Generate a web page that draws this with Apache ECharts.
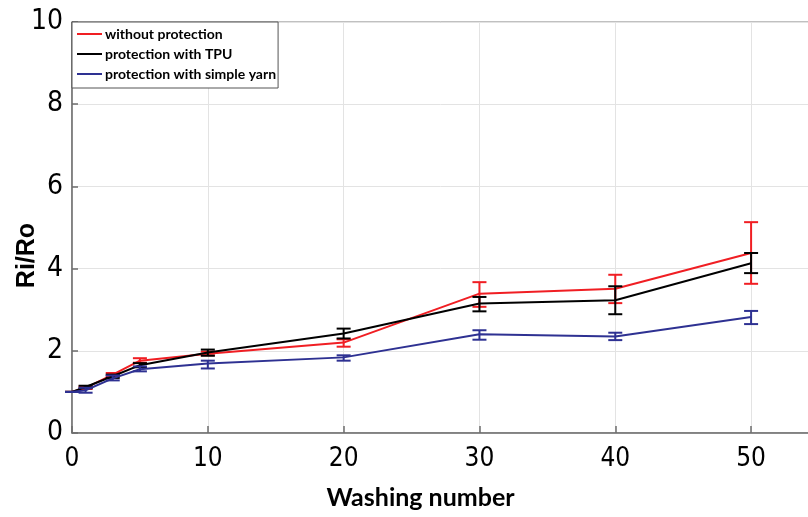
<!DOCTYPE html>
<html>
<head>
<meta charset="utf-8">
<script src="https://cdn.jsdelivr.net/npm/echarts@6/dist/echarts.min.js"></script>
<style>
html,body{margin:0;padding:0;background:#fff;}
#chart{width:808px;height:517px;}
</style>
</head>
<body>
<div id="chart"></div>
<script>
// ---- data ----
const washing = [0, 1, 3, 5, 10, 20, 30, 40, 50];
const seriesNames = ['without protection', 'protection with TPU', 'protection with simple yarn'];
const redMean   = [1.00, 1.10, 1.42, 1.76, 1.93, 2.20, 3.39, 3.51, 4.38];
const redLow    = [1.00, 1.07, 1.38, 1.71, 1.89, 2.10, 3.07, 3.16, 3.63];
const redHigh   = [1.00, 1.13, 1.46, 1.82, 1.98, 2.28, 3.67, 3.85, 5.13];
const blackMean = [1.00, 1.12, 1.38, 1.65, 1.96, 2.42, 3.15, 3.23, 4.13];
const blackLow  = [1.00, 1.09, 1.34, 1.60, 1.88, 2.30, 2.96, 2.89, 3.89];
const blackHigh = [1.00, 1.15, 1.42, 1.70, 2.03, 2.54, 3.31, 3.57, 4.38];
const blueMean  = [1.00, 1.04, 1.33, 1.55, 1.69, 1.84, 2.40, 2.35, 2.82];
const blueLow   = [1.00, 0.98, 1.28, 1.50, 1.57, 1.76, 2.27, 2.26, 2.65];
const blueHigh  = [1.00, 1.10, 1.40, 1.62, 1.76, 1.89, 2.50, 2.44, 2.97];
const xTicks = [0, 10, 20, 30, 40, 50];
const yTicks = [0, 2, 4, 6, 8, 10];

const colors = ['#f01e23', '#000000', '#2e3192'];

function pairs(xs, ys) { return xs.map((x, i) => [x, ys[i]]); }
function errData(xs, lo, hi) { return xs.map((x, i) => [x, lo[i], hi[i]]); }

function errRender(color) {
  return function (params, api) {
    const x = api.value(0);
    const p1 = api.coord([x, api.value(1)]);
    const p2 = api.coord([x, api.value(2)]);
    const hw = 7;
    const st = { stroke: color, lineWidth: 2 };
    return {
      type: 'group',
      children: [
        { type: 'line', shape: { x1: p1[0], y1: p1[1], x2: p2[0], y2: p2[1] }, style: st },
        { type: 'line', shape: { x1: p1[0] - hw, y1: p1[1], x2: p1[0] + hw, y2: p1[1] }, style: st },
        { type: 'line', shape: { x1: p2[0] - hw, y1: p2[1], x2: p2[0] + hw, y2: p2[1] }, style: st }
      ]
    };
  };
}

const means = [redMean, blackMean, blueMean];
const lows = [redLow, blackLow, blueLow];
const highs = [redHigh, blackHigh, blueHigh];

const series = [];
for (let k = 0; k < 3; k++) {
  series.push({
    name: seriesNames[k],
    type: 'line',
    data: pairs(washing, means[k]),
    showSymbol: false,
    symbol: 'none',
    lineStyle: { color: colors[k], width: 2 },
    itemStyle: { color: colors[k] },
    z: 2 + k,
    animation: false
  });
  series.push({
    type: 'custom',
    data: errData(washing, lows[k], highs[k]),
    renderItem: errRender(colors[k]),
    encode: { x: 0, y: [1, 2] },
    z: 2 + k,
    silent: true,
    animation: false
  });
}

const tickFont = "'Liberation Sans Narrow', 'Arial Narrow', 'DejaVu Sans Condensed', 'Liberation Sans', sans-serif";

const chart = echarts.init(document.getElementById('chart'), null, { renderer: 'canvas' });
chart.setOption({
  animation: false,
  backgroundColor: '#ffffff',
  grid: {
    left: 72, top: 22, width: 747, height: 411,
    outerBoundsMode: 'none', containLabel: false,
    show: true, borderColor: '#808080', borderWidth: 1, backgroundColor: 'transparent'
  },
  legend: {
    data: seriesNames,
    orient: 'vertical',
    left: 72,
    top: 22,
    padding: [5, 2, 7, 5],
    itemGap: 6,
    itemWidth: 25,
    itemHeight: 2,
    icon: 'rect',
    backgroundColor: '#ffffff',
    borderColor: '#555555',
    borderWidth: 1,
    borderRadius: 0,
    textStyle: { fontFamily: 'Lato', fontWeight: 'bold', fontSize: 14, color: '#000', padding: [0, 0, 0, -2] },
    z: 10
  },
  xAxis: {
    type: 'value',
    min: 0,
    max: 55,
    interval: 10,
    name: 'Washing number',
    nameLocation: 'middle',
    nameGap: 52,
    nameMoveOverlap: false,
    nameTextStyle: { fontFamily: 'Lato', fontWeight: 'bold', fontSize: 25, color: '#000', padding: [0, 50, 0, 0] },
    axisLine: { show: true, lineStyle: { color: '#6e6e6e', width: 1.5 } },
    axisTick: { show: true, inside: true, length: 7, lineStyle: { color: '#6e6e6e', width: 1.5 } },
    axisLabel: {
      margin: 13, fontFamily: tickFont, fontSize: 26, color: '#000',
      formatter: v => (xTicks.indexOf(v) >= 0 ? String(v) : '')
    },
    splitLine: { show: true, lineStyle: { color: '#e3e3e3', width: 1 } }
  },
  yAxis: {
    type: 'value',
    min: 0,
    max: 10,
    interval: 2,
    name: 'Ri/Ro',
    nameLocation: 'middle',
    nameGap: 32,
    nameMoveOverlap: false,
    nameTextStyle: { fontFamily: 'Liberation Sans', fontWeight: 'bold', fontSize: 25, color: '#000', padding: [0, 56, 0, 0] },
    axisLine: { show: true, lineStyle: { color: '#6e6e6e', width: 1.5 } },
    axisTick: { show: true, inside: true, length: 6, lineStyle: { color: '#6e6e6e', width: 1.5 } },
    axisLabel: {
      margin: 9, fontFamily: tickFont, fontSize: 28, color: '#000',
      formatter: v => (yTicks.indexOf(v) >= 0 ? String(v) : '')
    },
    splitLine: { show: true, lineStyle: { color: '#e3e3e3', width: 1 } }
  },
  series: series
});
</script>
</body>
</html>
